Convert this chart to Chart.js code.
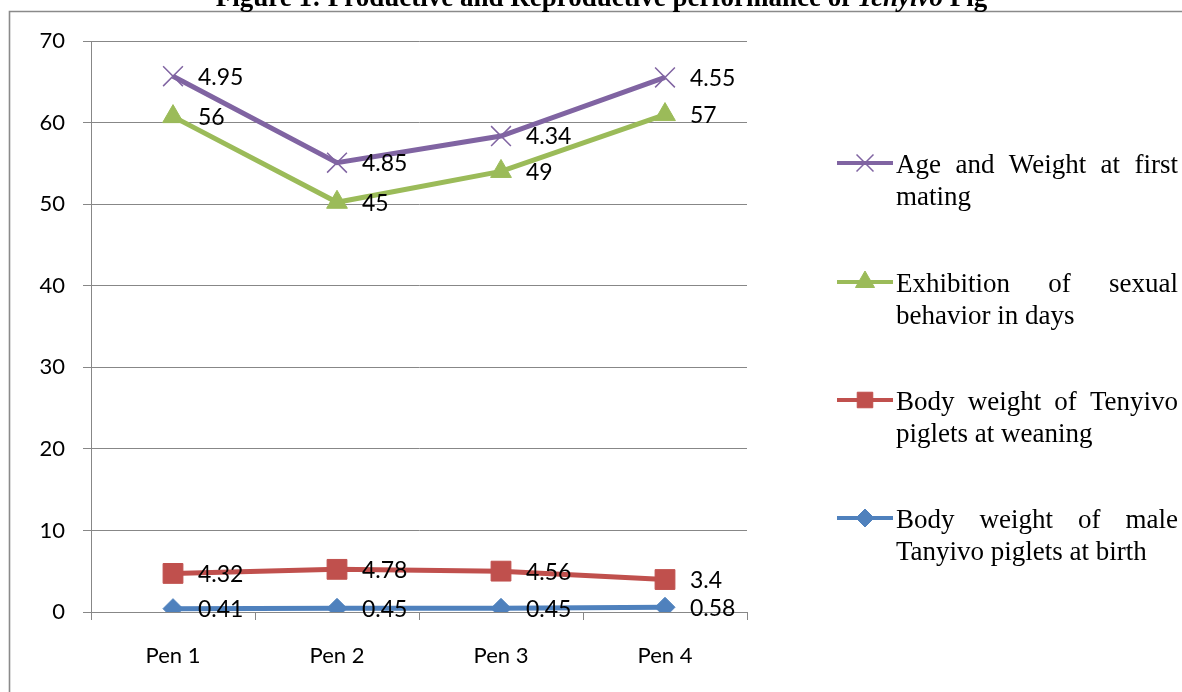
<!DOCTYPE html>
<html>
<head>
<meta charset="utf-8">
<script src="https://cdn.jsdelivr.net/npm/chart.js@4.4.1/dist/chart.umd.min.js"></script>
<style>
html,body{margin:0;padding:0;background:#fff;}
canvas{display:block;}
</style>
</head>
<body>
<canvas id="c" width="1182" height="692"></canvas>
<script>
// ---- data ----
const categories = ['Pen 1', 'Pen 2', 'Pen 3', 'Pen 4'];
const birthWeightMale = [0.41, 0.45, 0.45, 0.58];
const weaningWeight = [4.32, 4.78, 4.56, 3.4];
const sexualBehaviorDays = [56, 45, 49, 57];
const ageWeightFirstMating = [4.95, 4.85, 4.34, 4.55];
const seriesNames = [
  'Body weight of male Tanyivo piglets at birth',
  'Body weight of Tenyivo piglets at weaning',
  'Exhibition of sexual behavior in days',
  'Age and Weight at first mating'
];
const yTicks = [0, 10, 20, 30, 40, 50, 60, 70];
const titleParts = [
  {text: 'Figure 1: Productive and Reproductive performance of ', italic: false},
  {text: 'Tenyivo', italic: true},
  {text: ' Pig', italic: false}
];

const GRID = '#878787';
const SANS = 'Lato, "Open Sans", sans-serif';
const SERIF = '"Liberation Serif", "Times New Roman", serif';

const framePlugin = {
  id: 'frame',
  beforeDraw(chart) {
    const ctx = chart.ctx;
    ctx.save();
    ctx.strokeStyle = '#8a8a8a';
    ctx.lineWidth = 1.6;
    ctx.beginPath();
    ctx.moveTo(9.5, 692);
    ctx.lineTo(9.5, 11.5);
    ctx.lineTo(1182, 11.5);
    ctx.stroke();
    // title
    ctx.fillStyle = '#000';
    ctx.textBaseline = 'alphabetic';
    let total = 0;
    const fonts = titleParts.map(p => (p.italic ? 'italic ' : '') + 'bold 27px ' + SERIF);
    titleParts.forEach((p, i) => { ctx.font = fonts[i]; total += ctx.measureText(p.text).width; });
    let x = 601.5 - total / 2;
    titleParts.forEach((p, i) => {
      ctx.font = fonts[i];
      ctx.fillText(p.text, x, 6);
      x += ctx.measureText(p.text).width;
    });
    ctx.restore();
  }
};

const labelPlugin = {
  id: 'valueLabels',
  afterDatasetsDraw(chart) {
    const ctx = chart.ctx;
    ctx.save();
    ctx.font = '23px ' + SANS;
    ctx.fillStyle = '#000';
    ctx.textBaseline = 'middle';
    ctx.textAlign = 'left';
    chart.data.datasets.forEach((ds, di) => {
      const meta = chart.getDatasetMeta(di);
      meta.data.forEach((pt, i) => {
        ctx.fillText(String(ds.data[i]), pt.x + 25, pt.y + 1);
      });
    });
    ctx.restore();
  }
};

const legendPlugin = {
  id: 'sideLegend',
  afterDraw(chart) {
    const ctx = chart.ctx;
    const left = 896, right = 1178, maxW = right - left;
    const lineX0 = 837, lineX1 = 893;
    const firstBaselines = [173, 292, 410, 528];
    const lh = 32;
    ctx.save();
    ctx.font = '27px ' + SERIF;
    ctx.textBaseline = 'alphabetic';
    const order = [3, 2, 1, 0];
    order.forEach((di, k) => {
      const ds = chart.data.datasets[di];
      const words = ds.label.split(' ');
      const lines = [];
      let cur = [];
      words.forEach(w => {
        const test = cur.concat([w]).join(' ');
        if (ctx.measureText(test).width > maxW && cur.length) { lines.push(cur); cur = [w]; }
        else cur.push(w);
      });
      if (cur.length) lines.push(cur);
      const b0 = firstBaselines[k];
      ctx.fillStyle = '#000';
      lines.forEach((ws, li) => {
        const y = b0 + li * lh;
        if (li < lines.length - 1 && ws.length > 1) {
          const wsum = ws.reduce((a, w) => a + ctx.measureText(w).width, 0);
          const gap = (maxW - wsum) / (ws.length - 1);
          let x = left;
          ws.forEach(w => { ctx.fillText(w, x, y); x += ctx.measureText(w).width + gap; });
        } else {
          ctx.fillText(ws.join(' '), left, y);
        }
      });
      // marker line
      const my = b0 - 10;
      ctx.strokeStyle = ds.borderColor;
      ctx.lineWidth = 4;
      ctx.beginPath();
      ctx.moveTo(lineX0, my);
      ctx.lineTo(lineX1, my);
      ctx.stroke();
      ctx.fillStyle = ds.pointBackgroundColor;
      ctx.strokeStyle = ds.pointBorderColor;
      ctx.lineWidth = ds.pointBorderWidth;
      const cx = (lineX0 + lineX1) / 2;
      Chart.helpers.drawPoint(ctx, {pointStyle: ds.pointStyle, radius: ds.legendRadius, borderWidth: ds.pointBorderWidth, rotation: 0}, cx, my);
    });
    ctx.restore();
  }
};

function mk(label, data, color, style, radius, legendRadius, bw) {
  return {
    label, data,
    borderColor: color,
    backgroundColor: color,
    borderWidth: 5,
    pointStyle: style,
    pointRadius: radius,
    legendRadius: legendRadius,
    pointBackgroundColor: color,
    pointBorderColor: color,
    pointBorderWidth: bw,
    tension: 0,
    fill: false
  };
}

new Chart(document.getElementById('c'), {
  type: 'line',
  data: {
    labels: categories,
    datasets: [
      mk(seriesNames[0], birthWeightMale, '#4F81BD', 'rectRot', 10, 9, 1),
      mk(seriesNames[1], weaningWeight, '#C0504D', 'rect', 14, 11, 1),
      mk(seriesNames[2], sexualBehaviorDays, '#9BBB59', 'triangle', 12, 11, 1),
      mk(seriesNames[3], ageWeightFirstMating, '#8064A2', 'crossRot', 14, 12, 1.5)
    ]
  },
  options: {
    responsive: false,
    animation: false,
    events: [],
    layout: {padding: {top: 41, right: 435, left: 0, bottom: 0}},
    plugins: {legend: {display: false}, title: {display: false}, tooltip: {enabled: false}},
    scales: {
      x: {
        type: 'category',
        offset: true,
        grid: {offset: true, drawOnChartArea: false, drawTicks: true, tickLength: 8, color: GRID, lineWidth: 1},
        border: {display: true, color: GRID, width: 1},
        ticks: {font: {family: SANS, size: 22}, color: '#000', padding: 23},
        afterFit(s) { s.height = 80; }
      },
      y: {
        stacked: true,
        min: 0,
        max: 70,
        afterBuildTicks(s) { s.ticks = yTicks.map(v => ({value: v})); },
        grid: {color: GRID, lineWidth: 1, tickLength: 8},
        border: {display: true, color: GRID, width: 1},
        ticks: {font: {family: SANS, size: 22}, color: '#000', padding: 18},
        afterFit(s) { s.width = 91; }
      }
    }
  },
  plugins: [framePlugin, labelPlugin, legendPlugin]
});
</script>
</body>
</html>
